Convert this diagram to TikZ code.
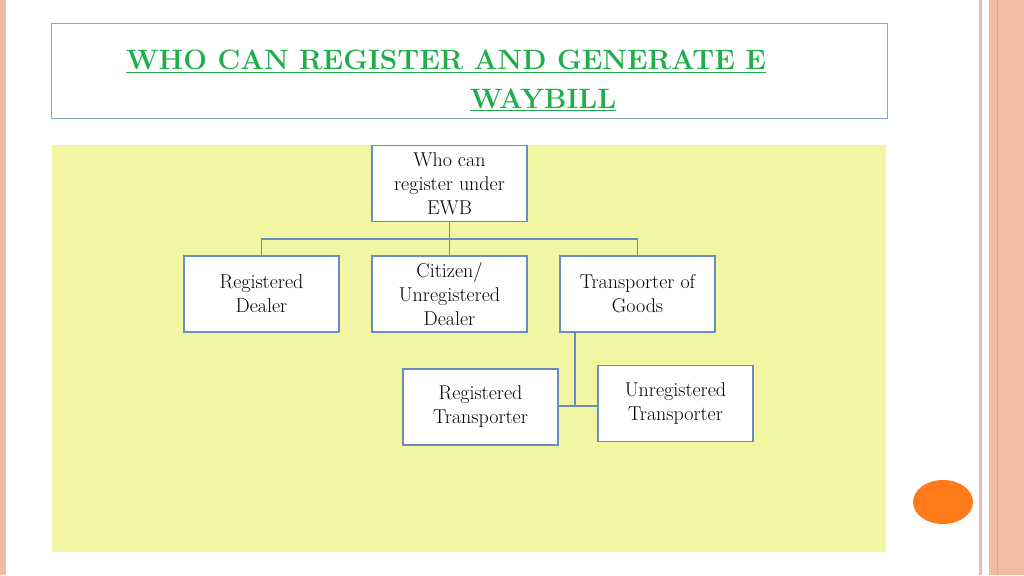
\documentclass[tikz,border=0pt]{standalone}
\usepackage{fontspec}
\usetikzlibrary{shapes.geometric}
\begin{document}
\begin{tikzpicture}[x=1pt,y=-1pt,
  box/.style={draw=boxc,line width=1.5pt,fill=white,minimum width=155pt,minimum height=76pt,inner sep=1pt,align=center,font=\fontsize{20}{24}\selectfont},
  con/.style={draw=boxc,line width=1.8pt}]
\definecolor{boxc}{HTML}{6A8CC0}
\definecolor{salmon}{HTML}{F2BBA4}
\definecolor{salmond}{HTML}{EDA282}
\definecolor{ttl}{HTML}{1FAF4A}
\definecolor{bg}{HTML}{F2F6A2}
\useasboundingbox (0,0) rectangle (1024,575);
\fill[white] (0,0) rectangle (1024,575);
% stripes
\fill[salmon] (0,0) rectangle (6,575);
\fill[salmon] (979,0) rectangle (982,575);
\fill[salmon] (989,0) rectangle (1024,575);
\draw[salmond,line width=1pt] (997,0) -- (997,575);
\draw[salmond!70,line width=0.6pt] (1006,0) -- (1006,575);
% title box
\draw[boxc!80,line width=0.8pt] (51,23) rectangle (887,118);
\node[font=\fontsize{28}{32}\bfseries\selectfont,text=ttl,anchor=base west,inner sep=0pt] (t1) at (126,70) {$\underline{\hbox{WHO CAN REGISTER AND GENERATE E}}$};
\node[font=\fontsize{28}{32}\bfseries\selectfont,text=ttl,anchor=base west,inner sep=0pt] (t2) at (470,109) {$\underline{\hbox{WAYBILL}}$};
% background
\fill[bg] (52,145) rectangle (886,552);
% nodes
\node[box] (top) at (449.5,183.5) {Who can\\register under\\EWB};
\node[box] (rd) at (261.5,294) {Registered\\Dealer};
\node[box] (cu) at (449.5,294) {Citizen/\\Unregistered\\Dealer};
\node[box] (tg) at (637.5,294) {Transporter of\\Goods};
\node[box] (rt) at (480.5,407) {Registered\\Transporter};
\node[box] (ut) at (675.5,403.5) {Unregistered\\Transporter};
\coordinate (bus) at (449.5,239);
\coordinate (tv) at (575,406);
% connectors
\draw[con] (top.south) -- (bus);
\draw[con] (rd.north) |- (bus) -| (tg.north);
\draw[con] (bus) -- (cu.north);
\draw[con] (tg.south -| tv) -- (tv);
\draw[con] (tv) -- (rt.east |- tv);
\draw[con] (tv) -- (ut.west |- tv);
% orange circle
\node[ellipse,fill=orange!85!red!90,minimum width=60pt,minimum height=44pt,inner sep=0pt] (dot) at (943,502) {};
\end{tikzpicture}
\end{document}
